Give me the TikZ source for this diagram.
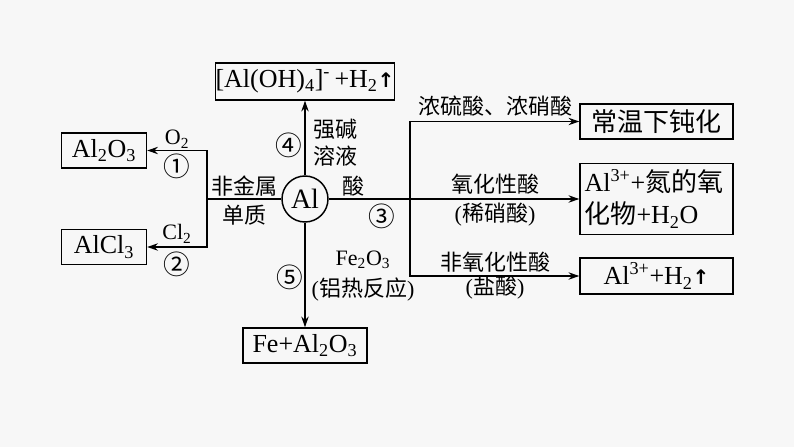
\documentclass[tikz,border=0pt]{standalone}
\usepackage{fontspec}
\setmainfont{Liberation Serif}
\newfontfamily\cjk{Noto Sans CJK SC}
\usetikzlibrary{arrows.meta, positioning}
\newcommand{\zh}[1]{{\cjk #1}}
\newcommand{\sbs}[1]{\textsubscript{#1}}
\newcommand{\sps}[1]{\textsuperscript{#1}}
\newcommand{\gasup}{{\fontspec{DejaVu Sans}\fontsize{15}{16}\bfseries\selectfont ↑}}

\begin{document}
\begin{tikzpicture}[x=0.75pt, y=-0.75pt,
	box/.style={draw, line width=1.1pt, inner sep=0pt, font=\fontsize{19.5}{24}\selectfont},
	lbl/.style={inner sep=1pt, font=\fontsize{16.5}{20}\selectfont},
	num/.style={inner sep=1pt, font=\fontsize{20}{22}\selectfont\cjk},
	arr/.style={-{Stealth[length=8pt, width=5.5pt]}, line width=1.1pt},
	link/.style={line width=1.1pt}]
	\fill[gray!6] (0,0) rectangle (794,447);

	% aluminium and its products
	\node[draw, circle, line width=1.1pt, minimum size=34.5pt, inner sep=0pt, font=\fontsize{21}{24}\selectfont] (al) at (305,199) {Al};
	\node[box, minimum width=133.5pt, minimum height=27.75pt] (aloh) at (305,81.5) {[Al(OH)\sbs{4}]\sps{-}\,+H\sbs{2}\gasup};
	\node[box, minimum width=63.75pt, minimum height=26.25pt] (alo) at (104,150.5) {Al\sbs{2}O\sbs{3}};
	\node[box, minimum width=63.75pt, minimum height=26.25pt] (alcl) at (104,247) {AlCl\sbs{3}};
	\node[box, minimum width=93pt, minimum height=26.25pt] (feal) at (305,345.5) {Fe+Al\sbs{2}O\sbs{3}};
	\node[box, minimum width=114.75pt, minimum height=26.25pt] (passiv) at (656.5,121.5) {\zh{常温下钝化}};
	\node[box, minimum width=114.75pt, minimum height=53.25pt, align=left, text width=108pt] (nitro) at (656.5,199) {Al\sps{3+}+\zh{氮的氧}\\\zh{化物}+H\sbs{2}O};
	\node[box, minimum width=114.75pt, minimum height=27pt] (hydro) at (656.5,276) {Al\sps{3+}+H\sbs{2}\gasup};

	\coordinate (lj) at (207,199);
	\coordinate (rj) at (410,199);

	% connectors
	\draw[link] (al) -- (lj);
	\draw[arr] (lj) |- (alo.east);
	\draw[arr] (lj) |- (alcl.east);
	\draw[arr] (al) -- (aloh);
	\draw[arr] (al) -- (feal);
	\draw[link] (al) -- (rj);
	\draw[arr] (rj) |- (passiv.west);
	\draw[arr] (rj) -- (nitro.west);
	\draw[arr] (rj) |- (hydro.west);

	% labels
	\node[lbl] at (177,139) {O\sbs{2}};
	\node[num] at (177,166) {①};
	\node[lbl] at (177,234) {Cl\sbs{2}};
	\node[num] at (177,264) {②};
	\node[lbl] at (244,186) {\zh{非金属}};
	\node[lbl] at (244,215) {\zh{单质}};
	\node[num] at (289,145) {④};
	\node[lbl] at (335,129) {\zh{强碱}};
	\node[lbl] at (335,156) {\zh{溶液}};
	\node[num] at (290,277) {⑤};
	\node[lbl] at (363,260) {Fe\sbs{2}O\sbs{3}};
	\node[lbl] at (363,290) {(\zh{铝热反应})};
	\node[lbl] at (353,186) {\zh{酸}};
	\node[num] at (382,216) {③};
	\node[lbl] at (495,106) {\zh{浓硫酸、浓硝酸}};
	\node[lbl] at (495,184) {\zh{氧化性酸}};
	\node[lbl] at (495,215) {(\zh{稀硝酸})};
	\node[lbl] at (495,262) {\zh{非氧化性酸}};
	\node[lbl] at (495,288) {(\zh{盐酸})};
\end{tikzpicture}
\end{document}
